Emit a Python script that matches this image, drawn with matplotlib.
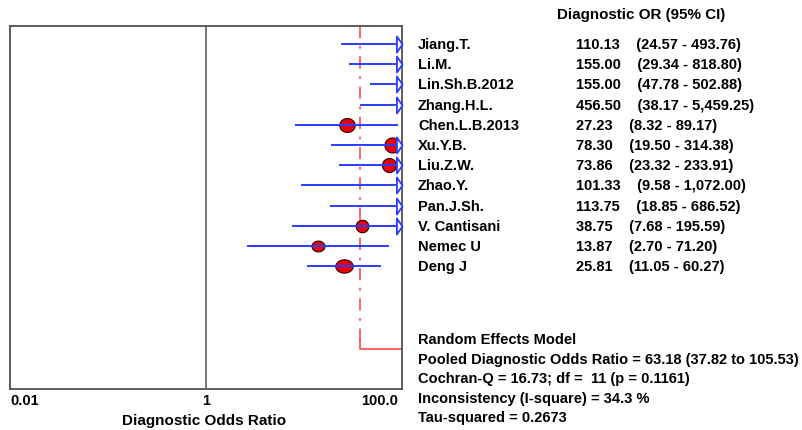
import numpy as np
import matplotlib
matplotlib.use("Agg")
import matplotlib.pyplot as plt
from matplotlib.path import Path
from matplotlib.transforms import blended_transform_factory

# study data (diagnostic OR and 95% CI)
studies = ["Jiang.T.", "Li.M.", "Lin.Sh.B.2012", "Zhang.H.L.", "Chen.L.B.2013",
           "Xu.Y.B.", "Liu.Z.W.", "Zhao.Y.", "Pan.J.Sh.", "V. Cantisani",
           "Nemec U", "Deng J"]
dor = [110.13, 155.00, 155.00, 456.50, 27.23, 78.30, 73.86, 101.33, 113.75, 38.75, 13.87, 25.81]
ci_lo = [24.57, 29.34, 47.78, 38.17, 8.32, 19.50, 23.32, 9.58, 18.85, 7.68, 2.70, 11.05]
ci_hi = [493.76, 818.80, 502.88, 5459.25, 89.17, 314.38, 233.91, 1072.00, 686.52, 195.59, 71.20, 60.27]
ci_lo_txt = ["24.57", "29.34", "47.78", "38.17", "8.32", "19.50", "23.32", "9.58", "18.85", "7.68", "2.70", "11.05"]
ci_hi_txt = ["493.76", "818.80", "502.88", "5,459.25", "89.17", "314.38", "233.91", "1,072.00",
             "686.52", "195.59", "71.20", "60.27"]
# marker sizes in pixels (width, height), reflecting the study weights
mk_w = [0, 0, 0, 0, 15.5, 15, 14, 0, 0, 12.7, 13, 17.5]
mk_h = [0, 0, 0, 0, 14, 15, 14, 0, 0, 12.5, 10.8, 13.3]

pooled_line = 37.5      # where the reference draws the summary line
pooled_row = 15.1
xmin, xmax = 0.01, 100.0

summary = ["Random Effects Model",
           "Pooled Diagnostic Odds Ratio = 63.18 (37.82 to 105.53)",
           "Cochran-Q = 16.73; df =  11 (p = 0.1161)",
           "Inconsistency (I-square) = 34.3 %",
           "Tau-squared = 0.2673"]

plt.rcParams['font.family'] = ['Liberation Sans', 'DejaVu Sans']

W, H = 802, 431
fig = plt.figure(figsize=(W / 100, H / 100), dpi=100)
ax = fig.add_axes([10 / W, 1 - 390 / H, 392 / W, 363 / H])
ax.set_xscale("log")
ax.set_xlim(xmin, xmax)
ax.set_ylim(17.08, -0.89)

blue = "#2b3cff"
red = "#ff3b3b"
px = 0.72  # points per pixel

ax.axvline(1, color="#505050", lw=1.1, zorder=1)

# summary line
ax.plot([pooled_line, pooled_line], [-0.89, pooled_row], color=red, lw=1.1,
        dashes=(8, 5, 1.8, 5), zorder=2)
ax.plot([pooled_line, pooled_line, xmax], [pooled_row - 0.5, pooled_row, pooled_row],
        color=red, lw=1.1, zorder=2)

# arrow marker (tip at data point) and ellipse marker
tri = Path([(-0.7, -1), (0, 0), (-0.7, 1), (-0.7, -1)],
           [Path.MOVETO, Path.LINETO, Path.LINETO, Path.CLOSEPOLY])

for i in range(len(studies)):
    lo = max(ci_lo[i], xmin)
    hi = min(ci_hi[i], xmax)
    if dor[i] < xmax:
        a = mk_w[i] / mk_h[i]
        t = np.linspace(0, 2 * np.pi, 60)
        ell = Path(np.column_stack([a * np.cos(t), np.sin(t)]))
        ax.plot([dor[i]], [i], marker=ell, ms=mk_w[i] * px, mfc="#e8000a",
                mec="#300000", mew=0.8, ls="none", zorder=3)
    ax.plot([lo, hi], [i, i], color=blue, lw=1.4, zorder=4)
    if ci_hi[i] > xmax:
        ax.plot([xmax], [i], marker=tri, ms=16 * px, mfc="white", mec=blue,
                mew=1.3, ls="none", zorder=5, clip_on=False)

for s in ax.spines.values():
    s.set_color("#505050")
    s.set_linewidth(1.3)
ax.set_xticks([])
ax.set_yticks([])
ax.minorticks_off()

fs = 10.5
ty = 1 - 401 / H
fig.text(10 / W, ty, "0.01", ha="left", va="center", fontsize=fs, fontweight="bold")
fig.text(206 / W, ty, "1", ha="center", va="center", fontsize=fs, fontweight="bold")
fig.text(398 / W, ty, "100.0", ha="right", va="center", fontsize=fs, fontweight="bold")
fig.text(204 / W, 1 - 421 / H, "Diagnostic Odds Ratio", ha="center", va="center",
         fontsize=11, fontweight="bold")

# right-hand table
tr = blended_transform_factory(fig.transFigure, ax.transData)
fig.text(557 / W, 1 - 15 / H, "Diagnostic OR (95% CI)", ha="left", va="center",
         fontsize=10.9, fontweight="bold")
for i in range(len(studies)):
    ax.text(418 / W, i, studies[i], transform=tr, ha="left", va="center",
            fontsize=fs, fontweight="bold", clip_on=False)
    ax.text(576 / W, i, f"{dor[i]:.2f}    ({ci_lo_txt[i]} - {ci_hi_txt[i]})", transform=tr,
            ha="left", va="center", fontsize=fs, fontweight="bold", clip_on=False)

for k, line in enumerate(summary):
    fig.text(418 / W, 1 - (340 + 19.6 * k) / H, line, ha="left", va="center",
             fontsize=fs, fontweight="bold")

fig.savefig("out.png", dpi=100)
